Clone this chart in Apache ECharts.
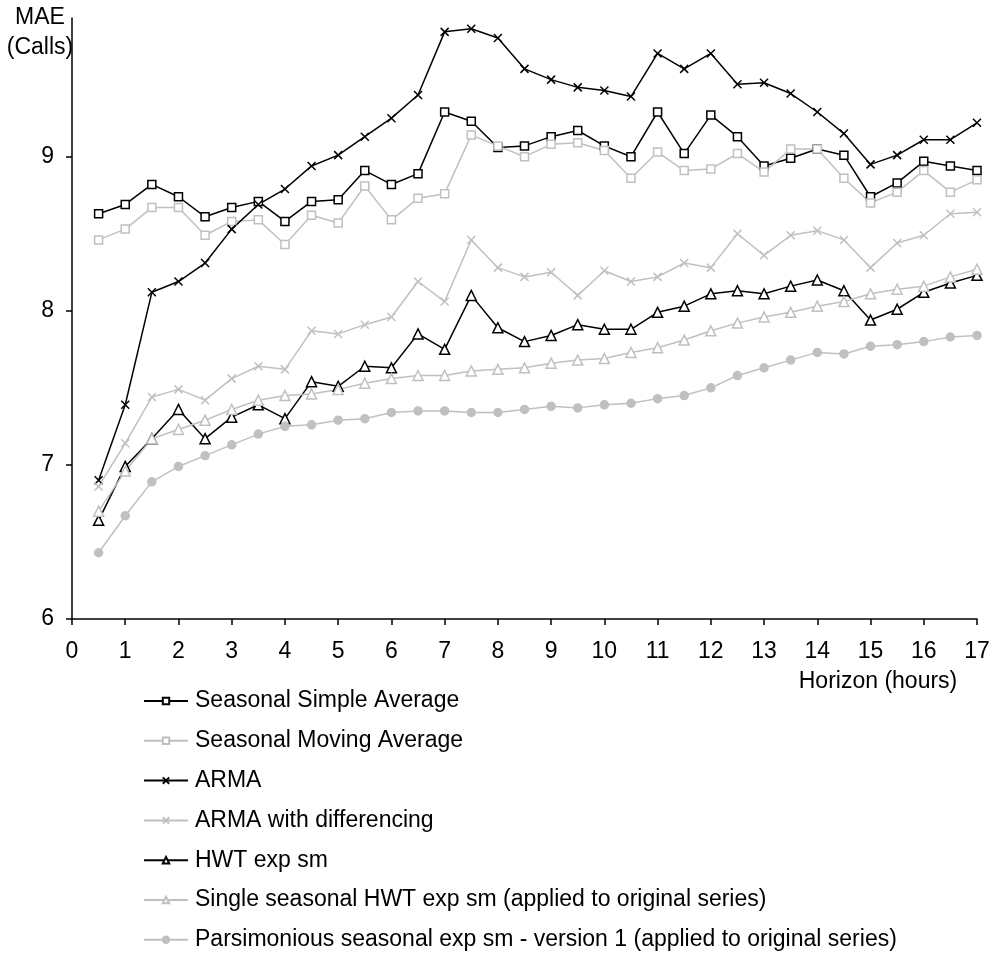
<!DOCTYPE html>
<html>
<head>
<meta charset="utf-8">
<script src="https://cdn.jsdelivr.net/npm/echarts@6/dist/echarts.min.js"></script>
<style>
html,body{margin:0;padding:0;background:#fff;}
#chart{width:994px;height:957px;}
</style>
</head>
<body>
<div id="chart"></div>
<script>
// Horizon (hours)
var horizon = [0.5,1,1.5,2,2.5,3,3.5,4,4.5,5,5.5,6,6.5,7,7.5,8,8.5,9,9.5,10,10.5,11,11.5,12,12.5,13,13.5,14,14.5,15,15.5,16,16.5,17];
var xTicks = [0,1,2,3,4,5,6,7,8,9,10,11,12,13,14,15,16,17];
var yTicks = [6,7,8,9];

var seasonalSimpleAverage = [8.63,8.69,8.82,8.74,8.61,8.67,8.71,8.58,8.71,8.72,8.91,8.82,8.89,9.29,9.23,9.06,9.07,9.13,9.17,9.07,9.00,9.29,9.02,9.27,9.13,8.94,8.99,9.05,9.01,8.74,8.83,8.97,8.94,8.91];
var seasonalMovingAverage = [8.46,8.53,8.67,8.67,8.49,8.58,8.59,8.43,8.62,8.57,8.81,8.59,8.73,8.76,9.14,9.07,9.00,9.08,9.09,9.04,8.86,9.03,8.91,8.92,9.02,8.90,9.05,9.05,8.86,8.70,8.77,8.91,8.77,8.85];
var arma = [6.90,7.39,8.12,8.19,8.31,8.53,8.69,8.79,8.94,9.01,9.13,9.25,9.40,9.81,9.83,9.77,9.57,9.50,9.45,9.43,9.39,9.67,9.57,9.67,9.47,9.48,9.41,9.29,9.15,8.95,9.01,9.11,9.11,9.22];
var armaDiff = [6.86,7.14,7.44,7.49,7.42,7.56,7.64,7.62,7.87,7.85,7.91,7.96,8.19,8.06,8.46,8.28,8.22,8.25,8.10,8.26,8.19,8.22,8.31,8.28,8.50,8.36,8.49,8.52,8.46,8.28,8.44,8.49,8.63,8.64];
var hwt = [6.64,6.99,7.17,7.36,7.17,7.31,7.39,7.30,7.54,7.51,7.64,7.63,7.85,7.75,8.10,7.89,7.80,7.84,7.91,7.88,7.88,7.99,8.03,8.11,8.13,8.11,8.16,8.20,8.13,7.94,8.01,8.12,8.18,8.23];
var singleHwt = [6.70,6.96,7.17,7.23,7.29,7.36,7.42,7.45,7.46,7.49,7.53,7.56,7.58,7.58,7.61,7.62,7.63,7.66,7.68,7.69,7.73,7.76,7.81,7.87,7.92,7.96,7.99,8.03,8.06,8.11,8.14,8.16,8.22,8.27];
var parsimonious = [6.43,6.67,6.89,6.99,7.06,7.13,7.20,7.25,7.26,7.29,7.30,7.34,7.35,7.35,7.34,7.34,7.36,7.38,7.37,7.39,7.40,7.43,7.45,7.50,7.58,7.63,7.68,7.73,7.72,7.77,7.78,7.80,7.83,7.84];

var names = [
  'Seasonal Simple Average',
  'Seasonal Moving Average',
  'ARMA',
  'ARMA with differencing',
  'HWT exp sm',
  'Single seasonal HWT exp sm (applied to original series)',
  'Parsimonious seasonal exp sm - version 1 (applied to original series)'
];

var BLACK = '#000000', GREY = '#c0c0c0';
var FONT = 'Liberation Sans, Arial, sans-serif';
var FS = 23;
var crossPath = 'path://M0,0L10,10M10,0L0,10';

function pairs(vals){ return vals.map(function(v,i){ return [horizon[i], v]; }); }

function mk(name, vals, color, symbol, size, fill){
  return {
    name: name, type: 'line', data: pairs(vals),
    symbol: symbol, symbolSize: size, showAllSymbol: true,
    lineStyle: {color: color, width: 1.5},
    itemStyle: {color: fill, borderColor: color, borderWidth: 1.5},
    emphasis: {disabled: true}, animation: false
  };
}

var chart = echarts.init(document.getElementById('chart'), null, {renderer: 'canvas'});
chart.setOption({
  backgroundColor: '#ffffff',
  animation: false,
  grid: {left: 72, right: 17, top: 18, bottom: 338, containLabel: false},
  xAxis: {
    type: 'value', min: 0, max: 17, interval: 1,
    splitLine: {show: false},
    axisLine: {onZero: false, lineStyle: {color: '#000', width: 1.5}},
    axisTick: {show: true, length: 6, lineStyle: {color: '#000', width: 1.5}, customValues: xTicks},
    axisLabel: {color: '#000', fontFamily: FONT, fontSize: FS, margin: 21, customValues: xTicks}
  },
  yAxis: {
    type: 'value', min: 6, max: 9.9, interval: 1,
    splitLine: {show: false},
    axisLine: {show: true, lineStyle: {color: '#000', width: 1.5}},
    axisTick: {show: true, length: 6, lineStyle: {color: '#000', width: 1.5}, customValues: yTicks},
    axisLabel: {color: '#000', fontFamily: FONT, fontSize: FS, margin: 18, customValues: yTicks}
  },
  legend: {
    orient: 'vertical', left: 143, top: 688, height: 400, padding: 0,
    itemWidth: 44, itemHeight: 8, itemGap: 13.8,
    textStyle: {color: '#000', fontFamily: FONT, fontSize: FS, lineHeight: 26, padding: [0,0,0,2]},
    data: names
  },
  graphic: [
    {type: 'text', style: {text: 'MAE', x: 40, y: 18, fill: '#000', font: FS + 'px ' + FONT, textAlign: 'center', textVerticalAlign: 'middle'}},
    {type: 'text', style: {text: '(Calls)', x: 40, y: 48, fill: '#000', font: FS + 'px ' + FONT, textAlign: 'center', textVerticalAlign: 'middle'}},
    {type: 'text', style: {text: 'Horizon (hours)', x: 878, y: 682, fill: '#000', font: FS + 'px ' + FONT, textAlign: 'center', textVerticalAlign: 'middle'}}
  ],
  series: [
    mk(names[0], seasonalSimpleAverage, BLACK, 'rect', 8, '#ffffff'),
    mk(names[1], seasonalMovingAverage, GREY, 'rect', 8, '#ffffff'),
    mk(names[2], arma, BLACK, crossPath, 8, 'rgba(0,0,0,0)'),
    mk(names[3], armaDiff, GREY, crossPath, 8, 'rgba(0,0,0,0)'),
    mk(names[4], hwt, BLACK, 'triangle', 10, '#ffffff'),
    mk(names[5], singleHwt, GREY, 'triangle', 10, '#ffffff'),
    mk(names[6], parsimonious, GREY, 'circle', 8, GREY)
  ]
});
</script>
</body>
</html>
